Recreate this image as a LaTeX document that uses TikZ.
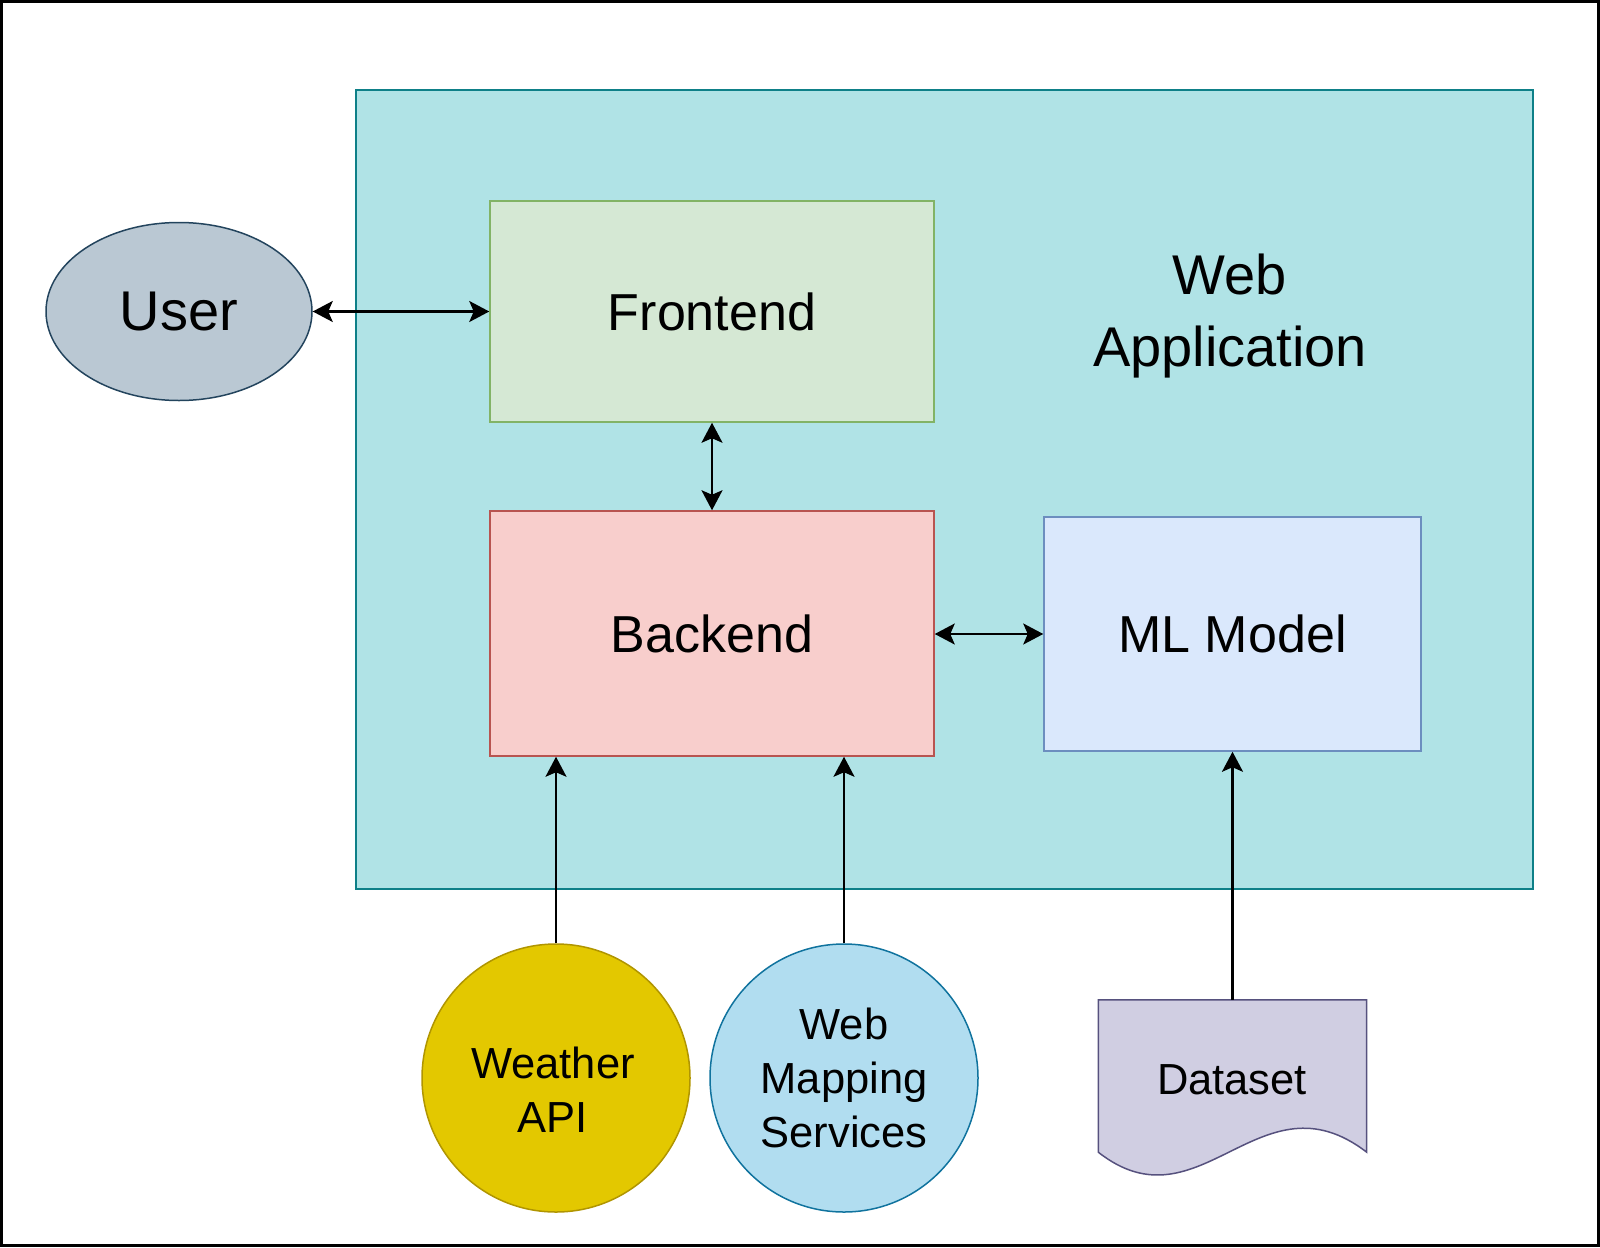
\documentclass[tikz,border=0pt]{standalone}
\usepackage{fontspec}
\setmainfont{Liberation Sans}
\usetikzlibrary{arrows.meta,shapes.geometric}
\definecolor{appfill}{HTML}{B0E3E6}\definecolor{appdraw}{HTML}{0E8088}
\definecolor{fefill}{HTML}{D5E8D4}\definecolor{fedraw}{HTML}{82B366}
\definecolor{befill}{HTML}{F8CECC}\definecolor{bedraw}{HTML}{B85450}
\definecolor{mlfill}{HTML}{DAE8FC}\definecolor{mldraw}{HTML}{6C8EBF}
\definecolor{userfill}{HTML}{BAC8D3}\definecolor{userdraw}{HTML}{23445D}
\definecolor{wxfill}{HTML}{E3C800}\definecolor{wxdraw}{HTML}{B09500}
\definecolor{mapfill}{HTML}{B1DDF0}\definecolor{mapdraw}{HTML}{10739E}
\definecolor{dsfill}{HTML}{D0CEE2}\definecolor{dsdraw}{HTML}{56517E}
\begin{document}
\begin{tikzpicture}[x=1pt,y=-1pt,
  box/.style={rectangle,line width=1.5pt,inner sep=0pt,font=\fontsize{52}{60}\selectfont},
  circ/.style={circle,line width=1.5pt,inner sep=0pt,minimum size=268pt,align=center,font=\fontsize{43.5}{54}\selectfont},
  link/.style={line width=2.2pt,-{Stealth[length=20pt,width=21pt,inset=4.5pt]}},
  dlink/.style={line width=2.2pt,{Stealth[length=20pt,width=21pt,inset=4.5pt]}-{Stealth[length=20pt,width=21pt,inset=4.5pt]}}]
\useasboundingbox (0,0) rectangle (1600,1247);
\draw[line width=3pt] (1.5,1.5) rectangle (1598.5,1245.5);
\node[box,fill=appfill,draw=appdraw,minimum width=1177pt,minimum height=799pt] (app) at (944.5,489.5) {};
\node[align=center,font=\fontsize{56}{71.5}\selectfont] (apptitle) at (1230,316) {Web\\Application};
\node[box,fill=fefill,draw=fedraw,minimum width=444pt,minimum height=221pt] (fe) at (712,311.5) {Frontend};
\node[box,fill=befill,draw=bedraw,minimum width=444pt,minimum height=245pt] (be) at (712,633.5) {Backend};
\node[box,fill=mlfill,draw=mldraw,minimum width=377pt,minimum height=234pt] (ml) at (1232.5,634) {ML Model};
\node[ellipse,fill=userfill,draw=userdraw,line width=1.5pt,minimum width=266pt,minimum height=178pt,inner sep=0pt,font=\fontsize{56}{60}\selectfont] (user) at (179,311.5) {User};
\node[circ,fill=wxfill,draw=wxdraw] (wx) at (556,1078) {};
\node[align=center,font=\fontsize{43.5}{54}\selectfont] (wxtext) at (553,1090) {Weather\\API};
\node[circ,fill=mapfill,draw=mapdraw] (map) at (844,1078) {Web\\Mapping\\Services};
\node[rectangle,minimum width=268pt,minimum height=152pt,inner sep=0pt] (ds) at (1232.5,1076) {};
\draw[fill=dsfill,draw=dsdraw,line width=1.5pt] (ds.north west) -- (ds.north east) -- (ds.south east)
  .. controls (1260,1070) and (1200,1232) .. (ds.south west) -- cycle;
\node[font=\fontsize{43.5}{54}\selectfont] (dstext) at (1232,1080) {Dataset};
\draw[dlink] (user.east) -- (user.east -| fe.west);
\draw[dlink] (fe.south) -- (be.north);
\draw[dlink] (be.east |- ml.west) -- (ml.west);
\draw[link] (wx.north) -- (wx.north |- be.south);
\draw[link] (map.north) -- (map.north |- be.south);
\draw[link] (ds.north) -- (ml.south);
\end{tikzpicture}
\end{document}
